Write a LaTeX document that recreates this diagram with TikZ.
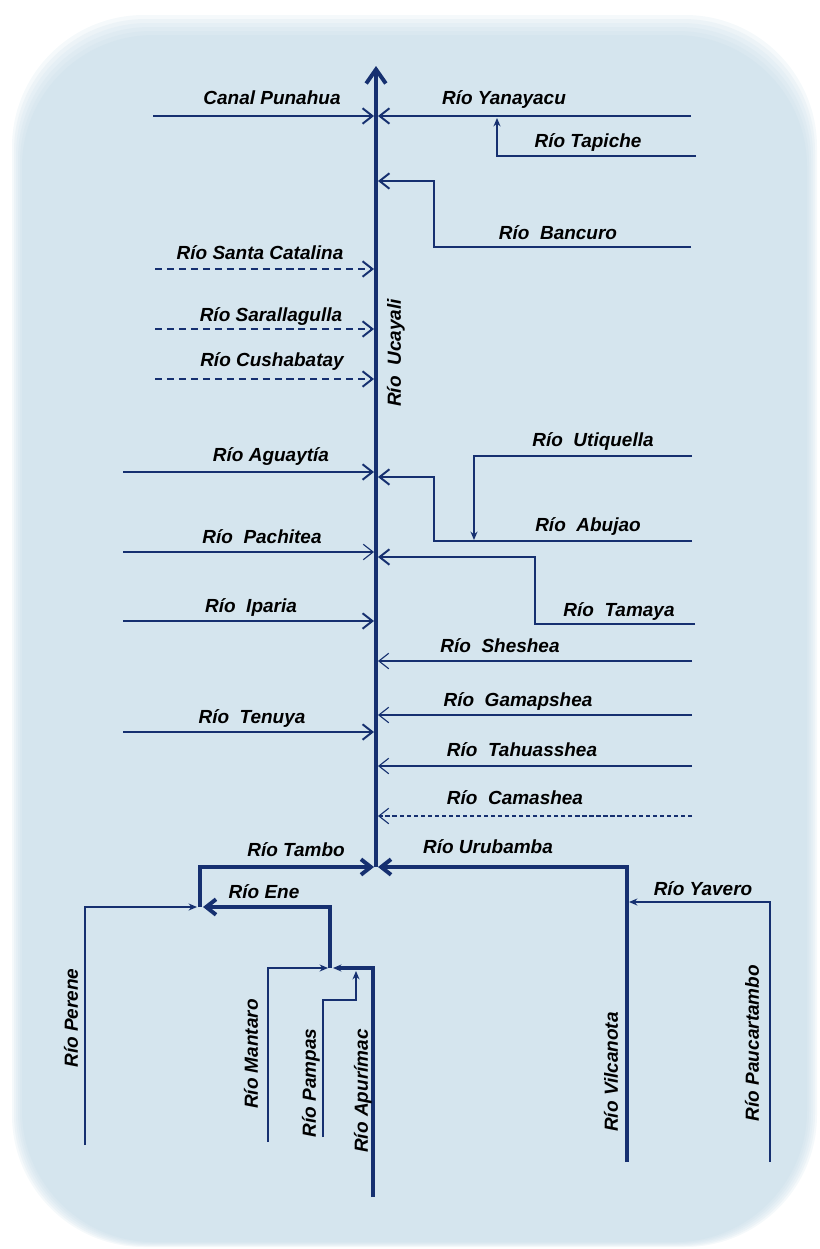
\documentclass[tikz,border=0pt]{standalone}
\usepackage{fontspec}
\setmainfont{Liberation Sans}
\usepackage{xcolor}
\usetikzlibrary{arrows.meta, positioning}
\definecolor{rio}{RGB}{22,48,112}
\definecolor{fondo}{RGB}{213,229,238}

\begin{document}
\begin{tikzpicture}[x=0.025cm,y=-0.025cm,draw=rio,
  lbl/.style={font=\fontsize{13.5}{16}\selectfont\bfseries\itshape,text=black,inner sep=0pt},
  vlbl/.style={lbl,rotate=90},
  grueso/.style={line width=2.8pt},
  medio/.style={line width=1.4pt},
  fino/.style={line width=0.8pt},
  trazos/.style={dash pattern=on 5pt off 3.5pt},
  trazosfinos/.style={dash pattern=on 3pt off 2pt},
  barb/.style={-{Straight Barb[length=7pt,width=11pt]}},
  punta/.style={-{Stealth[length=6pt,width=5pt]}}]
\useasboundingbox (0,0) rectangle (820,1249);
\foreach \i/\c in {0/25,1/45,2/62,3/76,4/88,5/100}
  \fill[fondo!\c!white,rounded corners=3.3cm] (12+2*\i,15+4*\i) rectangle (817-2*\i,1247-\i);

% rio principal
\coordinate (ucaS) at (376,867);
\coordinate (ucaN) at (376,66);
\draw[grueso,-{Straight Barb[length=10pt,width=14pt]}] (ucaS) -- (ucaN);
\node[vlbl] (ucayali) at (396,353) {Río\ \ Ucayali};

% margen izquierda
\coordinate (punW) at (153,116);
\coordinate (punE) at (374,116);
\coordinate (catW) at (155,269);
\coordinate (catE) at (374,269);
\coordinate (sarW) at (155,329);
\coordinate (sarE) at (374,329);
\coordinate (cusW) at (155,379);
\coordinate (cusE) at (374,379);
\coordinate (aguW) at (123,472);
\coordinate (aguE) at (374,472);
\coordinate (pacW) at (123,552);
\coordinate (pacE) at (374,552);
\coordinate (ipaW) at (123,621);
\coordinate (ipaE) at (374,621);
\coordinate (tenW) at (123,732);
\coordinate (tenE) at (374,732);
\draw[medio,barb] (punW) -- (punE);
\draw[medio,trazos,barb] (catW) -- (catE);
\draw[medio,trazos,barb] (sarW) -- (sarE);
\draw[medio,trazos,barb] (cusW) -- (cusE);
\draw[medio,barb] (aguW) -- (aguE);
\draw[fino,barb] (pacW) -- (pacE);
\draw[medio,barb] (ipaW) -- (ipaE);
\draw[medio,barb] (tenW) -- (tenE);
\node[lbl] (punahua) at (272,98) {Canal Punahua};
\node[lbl] (catalina) at (260,253) {Río Santa Catalina};
\node[lbl] (sarallagulla) at (271,317) {Río Sarallagulla};
\node[lbl] (cushabatay) at (272,362) {Río Cushabatay};
\node[lbl] (aguaytia) at (271,457) {Río Aguaytía};
\node[lbl] (pachitea) at (262,537) {Río\ \ Pachitea};
\node[lbl] (iparia) at (251,608) {Río\ \ Iparia};
\node[lbl] (tenuya) at (252,718) {Río\ \ Tenuya};

% margen derecha
\coordinate (yanE) at (691,116);
\coordinate (yanW) at (378,116);
\coordinate (tapE) at (696,156);
\coordinate (tapN) at (497,118);
\coordinate (banE) at (691,247);
\coordinate (banN) at (434,181);
\coordinate (banW) at (378,181);
\coordinate (utiE) at (692,456);
\coordinate (utiS) at (474,540);
\coordinate (abuE) at (692,541);
\coordinate (abuN) at (434,477);
\coordinate (abuW) at (378,477);
\coordinate (tamE) at (695,624);
\coordinate (tamN) at (535,557);
\coordinate (tamW) at (378,557);
\coordinate (sheE) at (692,661);
\coordinate (sheW) at (378,661);
\coordinate (gamE) at (692,715);
\coordinate (gamW) at (378,715);
\coordinate (tahE) at (692,766);
\coordinate (tahW) at (378,766);
\coordinate (camE) at (692,816);
\coordinate (camW) at (378,816);
\draw[medio,barb] (yanE) -- (yanW);
\draw[medio,punta] (tapE) -| (tapN);
\draw[medio,barb] (banE) -| (banN) -- (banW);
\draw[medio,punta] (utiE) -| (utiS);
\draw[medio,barb] (abuE) -| (abuN) -- (abuW);
\draw[medio,barb] (tamE) -| (tamN) -- (tamW);
\draw[fino,barb] (sheE) -- (sheW);
\draw[fino,barb] (gamE) -- (gamW);
\draw[fino,barb] (tahE) -- (tahW);
\draw[fino,trazosfinos,barb] (camE) -- (camW);
\node[lbl] (yanayacu) at (504,100) {Río Yanayacu};
\node[lbl] (tapiche) at (588,143) {Río Tapiche};
\node[lbl] (bancuro) at (558,233) {Río\ \ Bancuro};
\node[lbl] (utiquella) at (593,442) {Río\ \ Utiquella};
\node[lbl] (abujao) at (588,527) {Río\ \ Abujao};
\node[lbl] (tamaya) at (619,612) {Río\ \ Tamaya};
\node[lbl] (sheshea) at (500,646) {Río\ \ Sheshea};
\node[lbl] (gamapshea) at (518,701) {Río\ \ Gamapshea};
\node[lbl] (tahuasshea) at (522,750) {Río\ \ Tahuasshea};
\node[lbl] (camashea) at (515,798) {Río\ \ Camashea};

% cabeceras
\coordinate (tamS) at (200,907);
\coordinate (tamO) at (374,867);
\coordinate (uruS) at (627,1162);
\coordinate (uruO) at (378,867);
\coordinate (perS) at (85,1145);
\coordinate (perE) at (197,907);
\coordinate (eneS) at (330,968);
\coordinate (eneW) at (203,907);
\coordinate (manS) at (268,1142);
\coordinate (manE) at (328,968);
\coordinate (apuS) at (373,1197);
\coordinate (apuW) at (333,968);
\coordinate (pamS) at (323,1137);
\coordinate (pamK) at (356,1000);
\coordinate (pamN) at (356,971);
\coordinate (yavS) at (770,1162);
\coordinate (yavW) at (629,902);
\draw[grueso,barb] (tamS) |- (tamO);
\draw[grueso,barb] (uruS) |- (uruO);
\draw[fino,punta] (perS) |- (perE);
\draw[grueso,barb] (eneS) |- (eneW);
\draw[fino,punta] (manS) |- (manE);
\draw[grueso,punta] (apuS) |- (apuW);
\draw[fino,punta] (pamS) |- (pamK) -- (pamN);
\draw[fino,punta] (yavS) |- (yavW);
\node[lbl] (tambo) at (296,850) {Río Tambo};
\node[lbl] (urubamba) at (488,847) {Río Urubamba};
\node[lbl] (ene) at (264,892) {Río Ene};
\node[lbl] (yavero) at (703,889) {Río Yavero};
\node[vlbl] (perene) at (71,1018) {Río Perene};
\node[vlbl] (mantaro) at (251,1054) {Río Mantaro};
\node[vlbl] (pampas) at (311,1083) {Río Pampas};
\node[vlbl] (apurimac) at (363,1091) {Río Apurímac};
\node[vlbl] (vilcanota) at (611,1072) {Río Vilcanota};
\node[vlbl] (paucartambo) at (752,1043) {Río Paucartambo};
\end{tikzpicture}
\end{document}
